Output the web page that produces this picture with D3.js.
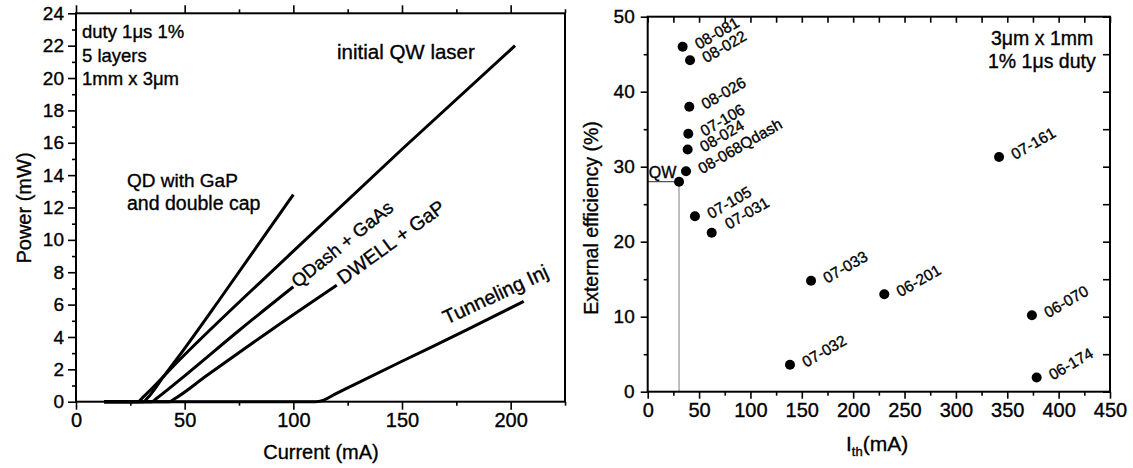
<!DOCTYPE html>
<html>
<head>
<meta charset="utf-8">
<script src="https://cdn.jsdelivr.net/npm/d3@7/dist/d3.min.js"></script>
<style>
  html, body { margin: 0; padding: 0; background: #fff; }
  svg { display: block; font-family: "Liberation Sans", Arial, Helvetica, sans-serif; }
  svg text { fill: #000; stroke: #000; stroke-width: 0.35px; }
</style>
</head>
<body>
<svg id="chart" width="1133" height="468"></svg>
<script>
// ---- Left panel: light output vs. drive current ----
const qdCurrent = [13, 31, 33, 40, 47, 66, 88.5, 100];
const qdPower   = [0, 0, 0.25, 1.5, 2.75, 6.3, 10.6, 12.8];

const qwCurrent = [13, 28.5, 31, 47, 100, 150, 202];
const qwPower   = [0, 0, 0.3, 2.5, 9.3, 15.6, 22.0];

const qdashCurrent = [13, 35, 37, 50, 75, 100];
const qdashPower   = [0, 0, 0.2, 1.6, 4.4, 7.1];

const dwellCurrent = [13, 43, 45, 60, 90, 120];
const dwellPower   = [0, 0, 0.15, 1.6, 4.45, 7.2];

const tunnelCurrent = [13, 110, 114, 119, 125, 150, 180, 206];
const tunnelPower   = [0, 0, 0.1, 0.45, 0.85, 2.5, 4.45, 6.2];

const powerTicks = [0, 2, 4, 6, 8, 10, 12, 14, 16, 18, 20, 22, 24];
const powerMinor = [1, 3, 5, 7, 9, 11, 13, 15, 17, 19, 21, 23];
const currentTicks = [0, 50, 100, 150, 200];
const currentMinor = [25, 75, 125, 175, 225];

// ---- Right panel: external efficiency vs. threshold current ----
const devices = ["08-081", "08-022", "08-026", "07-106", "08-024", "08-068Qdash", "QW",
                 "07-105", "07-031", "07-033", "07-032", "07-161", "06-201", "06-070", "06-174"];
const thresholdCurrent   = [34, 41.2, 40.5, 39.5, 38.9, 37.3, 30.5, 46, 62.3, 159, 138.5, 342, 230.3, 374, 378.6];
const externalEfficiency = [46, 44.2, 38.0, 34.4, 32.3, 29.4, 28.0, 23.4, 21.2, 14.8, 3.6, 31.3, 13.0, 10.2, 1.9];

const effTicks = [0, 10, 20, 30, 40, 50];
const effMinor = [5, 15, 25, 35, 45];
const effRightTicks = [0, 5, 10, 15, 20, 25, 30, 35, 40, 45, 50];
const ithTicks = [0, 50, 100, 150, 200, 250, 300, 350, 400, 450];
const ithMinor = [25, 75, 125, 175, 225, 275, 325, 375, 425];

const svg = d3.select("#chart");

// scales
const xL = d3.scaleLinear().domain([0, 225]).range([76, 565]);
const yL = d3.scaleLinear().domain([0, 24]).range([401.7, 13.3]);
const xR = d3.scaleLinear().domain([0, 450]).range([647.7, 1110]);
const yR = d3.scaleLinear().domain([0, 50]).range([391.7, 16.7]);

function styleAxis(g, fontSize) {
  g.select(".domain").remove();
  g.selectAll(".tick line").attr("stroke", "#000").attr("stroke-width", 1.6);
  g.selectAll(".tick text").attr("font-size", fontSize).attr("font-family", "Liberation Sans, Arial, sans-serif");
}

// ===== Left panel axes =====
svg.append("g").attr("transform", `translate(${xL(0)},0)`)
  .call(d3.axisLeft(yL).tickValues(powerTicks).tickSize(8).tickPadding(4))
  .call(g => styleAxis(g, 19));
svg.append("g").attr("transform", `translate(${xL(0)},0)`)
  .call(d3.axisLeft(yL).tickValues(powerMinor).tickSize(4).tickFormat(""))
  .call(g => styleAxis(g, 19));

svg.append("g").attr("transform", `translate(0,${yL(0)})`)
  .call(d3.axisBottom(xL).tickValues(currentTicks).tickSize(8).tickPadding(3))
  .call(g => styleAxis(g, 20));
svg.append("g").attr("transform", `translate(0,${yL(0)})`)
  .call(d3.axisBottom(xL).tickValues(currentMinor).tickSize(4).tickFormat(""))
  .call(g => styleAxis(g, 20));

svg.append("g").attr("transform", `translate(0,${yL(24)})`)
  .call(d3.axisTop(xL).tickValues(currentTicks).tickSize(8).tickFormat(""))
  .call(g => styleAxis(g, 20));
svg.append("g").attr("transform", `translate(0,${yL(24)})`)
  .call(d3.axisTop(xL).tickValues(currentMinor).tickSize(4).tickFormat(""))
  .call(g => styleAxis(g, 20));

svg.append("rect")
  .attr("x", xL(0)).attr("y", yL(24))
  .attr("width", xL(225) - xL(0)).attr("height", yL(0) - yL(24))
  .attr("fill", "none").attr("stroke", "#000").attr("stroke-width", 2);

// L-I curves
const lineL = d3.line()
  .x(d => xL(d[0])).y(d => yL(d[1]))
  .curve(d3.curveMonotoneX);

const curves = [
  d3.zip(qdCurrent, qdPower),
  d3.zip(qwCurrent, qwPower),
  d3.zip(qdashCurrent, qdashPower),
  d3.zip(dwellCurrent, dwellPower),
  d3.zip(tunnelCurrent, tunnelPower)
];
svg.append("g").selectAll("path").data(curves).join("path")
  .attr("d", lineL)
  .attr("fill", "none").attr("stroke", "#000").attr("stroke-width", 3);

// left panel annotations
const notesL = svg.append("g");
[["duty 1μs 1%", 38], ["5 layers", 61.5], ["1mm x 3μm", 85]].forEach(([t, y]) => {
  notesL.append("text").attr("x", 82).attr("y", y).attr("font-size", 18.5).text(t);
});
notesL.append("text").attr("x", 127).attr("y", 186.5).attr("font-size", 19).text("QD with GaP");
notesL.append("text").attr("x", 127).attr("y", 209.5).attr("font-size", 19.5).text("and double cap");
notesL.append("text").attr("x", 337).attr("y", 59).attr("font-size", 20.5).text("initial QW laser");

const slanted = [
  { text: "QDash + GaAs", at: [102, 7.0], angle: -39, size: 18.5 },
  { text: "DWELL + GaP", at: [123, 7.2], angle: -36, size: 19.5 },
  { text: "Tunneling Inj", at: [170.6, 4.75], angle: -25, size: 20 }
];
notesL.selectAll("text.slant").data(slanted).join("text")
  .attr("class", "slant")
  .attr("font-size", d => d.size)
  .attr("transform", d => `translate(${xL(d.at[0])},${yL(d.at[1])}) rotate(${d.angle})`)
  .text(d => d.text);

// axis titles (left)
svg.append("text")
  .attr("transform", `translate(31,208) rotate(-90)`)
  .attr("text-anchor", "middle").attr("font-size", 20)
  .text("Power (mW)");
svg.append("text")
  .attr("x", 321).attr("y", 459)
  .attr("text-anchor", "middle").attr("font-size", 20)
  .text("Current (mA)");

// ===== Right panel axes =====
svg.append("g").attr("transform", `translate(${xR(0)},0)`)
  .call(d3.axisLeft(yR).tickValues(effTicks).tickSize(7).tickPadding(6))
  .call(g => styleAxis(g, 19));
svg.append("g").attr("transform", `translate(${xR(0)},0)`)
  .call(d3.axisLeft(yR).tickValues(effMinor).tickSize(4).tickFormat(""))
  .call(g => styleAxis(g, 19));

svg.append("g").attr("transform", `translate(0,${yR(0)})`)
  .call(d3.axisBottom(xR).tickValues(ithTicks).tickSize(7).tickPadding(4))
  .call(g => styleAxis(g, 20));
svg.append("g").attr("transform", `translate(0,${yR(0)})`)
  .call(d3.axisBottom(xR).tickValues(ithMinor).tickSize(4).tickFormat(""))
  .call(g => styleAxis(g, 20));

svg.append("g").attr("transform", `translate(0,${yR(50)})`)
  .call(d3.axisTop(xR).tickValues(ithTicks.concat(ithMinor)).tickSize(-6).tickFormat(""))
  .call(g => styleAxis(g, 20));
svg.append("g").attr("transform", `translate(${xR(450)},0)`)
  .call(d3.axisRight(yR).tickValues(effRightTicks).tickSize(-7).tickFormat(""))
  .call(g => styleAxis(g, 20));

// QW reference guides
const qwIdx = devices.indexOf("QW");
svg.append("line")
  .attr("x1", xR(0)).attr("x2", xR(thresholdCurrent[qwIdx]))
  .attr("y1", yR(externalEfficiency[qwIdx])).attr("y2", yR(externalEfficiency[qwIdx]))
  .attr("stroke", "#555").attr("stroke-width", 1.2);
svg.append("line")
  .attr("x1", xR(thresholdCurrent[qwIdx])).attr("x2", xR(thresholdCurrent[qwIdx]))
  .attr("y1", yR(externalEfficiency[qwIdx])).attr("y2", yR(0))
  .attr("stroke", "#aaa").attr("stroke-width", 1.5);

svg.append("rect")
  .attr("x", xR(0)).attr("y", yR(50))
  .attr("width", xR(450) - xR(0)).attr("height", yR(0) - yR(50))
  .attr("fill", "none").attr("stroke", "#000").attr("stroke-width", 2);

// device points
const pts = devices.map((name, i) => ({ name, x: thresholdCurrent[i], y: externalEfficiency[i] }));
svg.append("g").selectAll("circle").data(pts).join("circle")
  .attr("cx", d => xR(d.x)).attr("cy", d => yR(d.y)).attr("r", 5)
  .attr("fill", "#000");

// device labels, slanted; one nudged to clear its neighbour
const nudge = { "07-031": [17, -3] };
svg.append("g").selectAll("text").data(pts.filter(d => d.name !== "QW")).join("text")
  .attr("font-size", 15.5)
  .attr("transform", d => {
    const [dx, dy] = nudge[d.name] || [16, 3];
    return `translate(${xR(d.x) + dx},${yR(d.y) + dy}) rotate(-30)`;
  })
  .text(d => d.name);
svg.append("text")
  .attr("x", xR(0) + 1).attr("y", yR(externalEfficiency[qwIdx]) - 3.5)
  .attr("font-size", 16).text("QW");

// right panel notes
svg.append("text").attr("x", 991).attr("y", 45).attr("font-size", 19.5).text("3μm x 1mm");
svg.append("text").attr("x", 988).attr("y", 68).attr("font-size", 19.5).text("1% 1μs duty");

// axis titles (right)
svg.append("text")
  .attr("transform", `translate(598,218) rotate(-90)`)
  .attr("text-anchor", "middle").attr("font-size", 19.5)
  .text("External efficiency (%)");
const ith = svg.append("text").attr("x", 846).attr("y", 451).attr("font-size", 21);
ith.append("tspan").text("I");
ith.append("tspan").attr("font-size", 13).attr("dy", 5).text("th");
ith.append("tspan").attr("dy", -5).text("(mA)");
</script>
</body>
</html>
